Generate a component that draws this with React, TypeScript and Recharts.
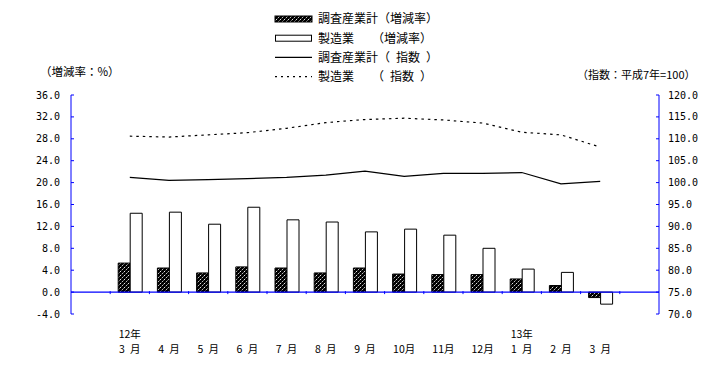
import { ComposedChart, Bar, Line, XAxis, YAxis, ReferenceLine } from "recharts"

const months = ["3", "4", "5", "6", "7", "8", "9", "10", "11", "12", "1", "2", "3"]
const years = ["12年", "", "", "", "", "", "", "", "", "", "13年", "", ""]

// 増減率 (%) - left axis
const allRate = [5.3, 4.4, 3.5, 4.6, 4.4, 3.5, 4.4, 3.3, 3.2, 3.2, 2.4, 1.2, -1.0]
const mfgRate = [14.4, 14.6, 12.4, 15.5, 13.2, 12.8, 11.0, 11.5, 10.4, 8.0, 4.2, 3.6, -2.2]

// 指数 (平成7年=100) - right axis
const allIndex = [101.2, 100.5, 100.7, 100.9, 101.2, 101.7, 102.6, 101.4, 102.1, 102.1, 102.3, 99.7, 100.3]
const mfgIndex = [110.6, 110.4, 110.9, 111.4, 112.4, 113.7, 114.4, 114.7, 114.3, 113.6, 111.5, 110.9, 108.1]

const leftTicks = [-4, 0, 4, 8, 12, 16, 20, 24, 28, 32, 36]
const rightTicks = [70, 75, 80, 85, 90, 95, 100, 105, 110, 115, 120]

const W = 726
const H = 380
const M = { top: 95, left: 71, right: 67, bottom: 66 }
const PLOT_W = W - M.left - M.right
const PLOT_H = H - M.top - M.bottom
const SLOTS = months.length + 2
const BAND = PLOT_W / SLOTS
const ZERO_UP = ((0 - leftTicks[0]) / (leftTicks[leftTicks.length - 1] - leftTicks[0])) * PLOT_H

const BLUE = "#0000ff"
const JP = "'Noto Sans CJK JP', sans-serif"
const MONO = "'DejaVu Sans Mono', monospace"
const HALF = "\u2002"

const rows = [
  { idx: 0 },
  ...months.map((m, i) => ({
    idx: i + 1,
    month: m.length === 1 ? `${m}${HALF}月` : `${m}月`,
    year: years[i],
    allRate: allRate[i],
    mfgRate: mfgRate[i],
    allIndex: allIndex[i],
    mfgIndex: mfgIndex[i],
  })),
  { idx: SLOTS - 1 },
]

const XTick = (props: any) => {
  const { x, y, payload } = props
  const i = payload.value as number
  const row: any = rows[i]
  const zy = y - ZERO_UP
  return (
    <g>
      {i > 0 && <line x1={x - BAND / 2} x2={x - BAND / 2} y1={zy - 3} y2={zy} stroke={BLUE} />}
      {row?.year && (
        <text x={x} y={y + 22} textAnchor="middle" fontSize={10.5} fontFamily={JP} fill="#000">
          {row.year}
        </text>
      )}
      {row?.month && (
        <text x={x} y={y + 36.5} textAnchor="middle" fontSize={10.5} fontFamily={JP} fill="#000">
          {row.month}
        </text>
      )}
    </g>
  )
}

const LeftTick = (props: any) => {
  const { x, y, payload } = props
  return (
    <g>
      <line x1={x + 11} x2={x + 14} y1={y} y2={y} stroke={BLUE} />
      <text x={x} y={y} dy="0.35em" textAnchor="end" fontSize={10} fontFamily={MONO} fill="#000">
        {payload.value.toFixed(1)}
      </text>
    </g>
  )
}

const RightTick = (props: any) => {
  const { x, y, payload } = props
  return (
    <g>
      <line x1={x - 9} x2={x - 12} y1={y} y2={y} stroke={BLUE} />
      <text x={x} y={y} dy="0.35em" textAnchor="start" fontSize={10} fontFamily={MONO} fill="#000">
        {payload.value.toFixed(1)}
      </text>
    </g>
  )
}

const legendItems = [
  { label: "調査産業計（増減率）", kind: "hatch" },
  { label: "製造業　　（増減率）", kind: "box" },
  { label: `調査産業計（${HALF}指数${HALF}）`, kind: "line" },
  { label: `製造業　　（${HALF}指数${HALF}）`, kind: "dot" },
]

export default function App() {
  return (
    <div style={{ position: "absolute", left: 0, top: 0, width: W, height: H, background: "#fff" }}>
      <ComposedChart width={W} height={H} data={rows} margin={{ top: M.top, right: 0, left: 0, bottom: 0 }} barGap={0}>
        <defs>
          <pattern id="hatch" patternUnits="userSpaceOnUse" width="4" height="4">
            <rect width="4" height="4" fill="#000" />
            <path d="M0,4 L4,0" stroke="#fff" strokeWidth={0.9} strokeDasharray="1.5 1" />
          </pattern>
        </defs>
        <XAxis dataKey="idx" type="category" interval={0} height={M.bottom} axisLine={false} tickLine={false} tickSize={0} tick={(p: any) => <XTick {...p} />} />
        <YAxis
          yAxisId="left"
          width={M.left}
          domain={[leftTicks[0], leftTicks[leftTicks.length - 1]]}
          ticks={leftTicks}
          interval={0}
          axisLine={{ stroke: BLUE }}
          tickLine={false}
          tickSize={0}
          tickMargin={11}
          tick={(p: any) => <LeftTick {...p} />}
        />
        <YAxis
          yAxisId="right"
          orientation="right"
          width={M.right}
          domain={[rightTicks[0], rightTicks[rightTicks.length - 1]]}
          ticks={rightTicks}
          interval={0}
          axisLine={{ stroke: BLUE }}
          tickLine={false}
          tickSize={0}
          tickMargin={9}
          tick={(p: any) => <RightTick {...p} />}
        />
        <Bar yAxisId="left" dataKey="allRate" barSize={12} fill="url(#hatch)" stroke="#000" strokeWidth={1} isAnimationActive={false} />
        <Bar yAxisId="left" dataKey="mfgRate" barSize={12} fill="#fff" stroke="#000" strokeWidth={1} isAnimationActive={false} />
        <ReferenceLine yAxisId="left" y={0} stroke={BLUE} strokeWidth={1.2} />
        <Line yAxisId="right" dataKey="allIndex" type="linear" stroke="#000" strokeWidth={1.2} dot={false} activeDot={false} isAnimationActive={false} />
        <Line yAxisId="right" dataKey="mfgIndex" type="linear" stroke="#000" strokeWidth={1.2} strokeDasharray="2.5 4" dot={false} activeDot={false} isAnimationActive={false} />
      </ComposedChart>
      <svg width={W} height={H} style={{ position: "absolute", left: 0, top: 0, pointerEvents: "none" }}>
        {legendItems.map((it, i) => {
          const cy = 19 + i * 19.2
          return (
            <g key={it.label}>
              {it.kind === "hatch" && <rect x={275} y={cy - 3} width={37} height={6} fill="url(#hatch)" stroke="#000" />}
              {it.kind === "box" && <rect x={275.5} y={cy - 3} width={36} height={6} fill="#fff" stroke="#000" />}
              {it.kind === "line" && <line x1={275} x2={312} y1={cy} y2={cy} stroke="#000" strokeWidth={1.2} />}
              {it.kind === "dot" && <line x1={275} x2={312} y1={cy} y2={cy} stroke="#000" strokeWidth={1.2} strokeDasharray="2 4" />}
              <text x={318} y={cy} dy="0.36em" fontSize={12} fontFamily={JP} fill="#000">
                {it.label}
              </text>
            </g>
          )
        })}
        <text x={40} y={72} dy="0.36em" fontSize={11.5} fontFamily={JP} fill="#000">（増減率：%）</text>
        <text x={577} y={75} dy="0.36em" fontSize={11} fontFamily={JP} fill="#000">（指数：平成7年=100）</text>
      </svg>
    </div>
  )
}
